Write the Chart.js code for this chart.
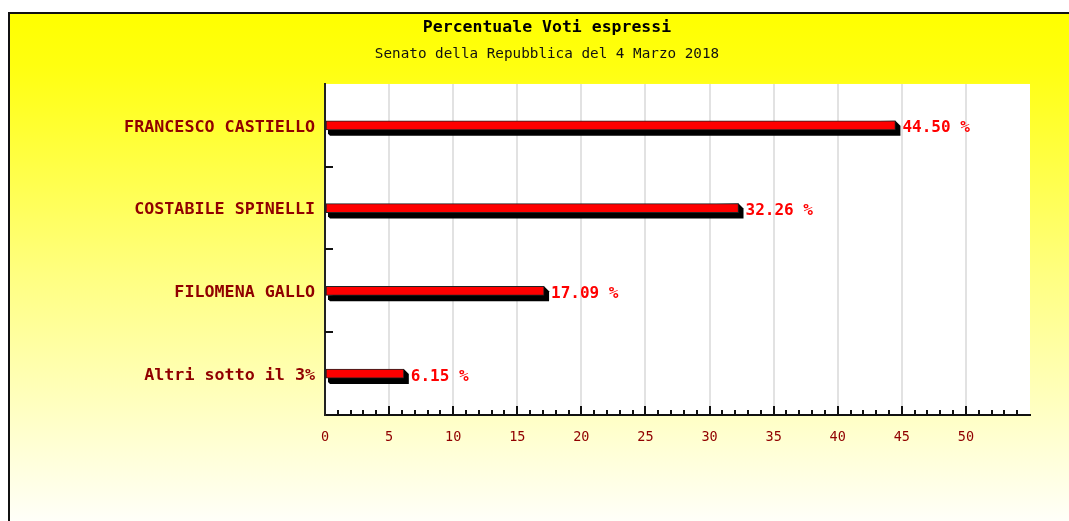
<!DOCTYPE html>
<html>
<head>
<meta charset="utf-8">
<script src="https://cdn.jsdelivr.net/npm/chart.js@4"></script>
<style>
  html, body { margin: 0; padding: 0; background: #fff; overflow: hidden; }
  #box {
    position: absolute; left: 8px; top: 12px; width: 1090px; height: 520px;
    border-top: 2px solid #111; border-left: 2px solid #111;
    background: linear-gradient(to bottom, #ffff00 0%, #ffff10 10%, #ffff80 50%, #ffffff 100%);
  }
  #chart { position: absolute; left: 0; top: 0; }
</style>
</head>
<body>
<div id="box"><canvas id="chart" width="1074" height="507"></canvas></div>
<script>
const candidates = ['FRANCESCO CASTIELLO', 'COSTABILE SPINELLI', 'FILOMENA GALLO', 'Altri sotto il 3%'];
const percentages = [44.50, 32.26, 17.09, 6.15];
const xMax = 55;
const labelStep = 5;

const MONO = '"DejaVu Sans Mono", "Liberation Mono", monospace';
const DARKRED = '#900000';

// white plot background
const plotBg = {
  id: 'plotBg',
  beforeDraw(chart) {
    const { ctx, chartArea: a } = chart;
    ctx.save();
    ctx.fillStyle = '#fff';
    ctx.fillRect(a.left, a.top, a.right - a.left, a.bottom - a.top);
    ctx.restore();
  }
};

// black 3d shadow under the bars, from the bar elements
const barShadow = {
  id: 'barShadow',
  beforeDatasetsDraw(chart) {
    const ctx = chart.ctx;
    ctx.save();
    ctx.fillStyle = '#000';
    chart.getDatasetMeta(0).data.forEach(bar => {
      const h = bar.height;
      ctx.beginPath();
      ctx.moveTo(bar.base + 2, bar.y + h / 2);
      ctx.lineTo(bar.x, bar.y - h / 2);
      ctx.lineTo(bar.x + 5, bar.y - h / 2 + 5);
      ctx.lineTo(bar.x + 5, bar.y + h / 2 + 6);
      ctx.lineTo(bar.base + 4, bar.y + h / 2 + 6);
      ctx.lineTo(bar.base + 2, bar.y + h / 2 + 4);
      ctx.closePath();
      ctx.fill();
    });
    ctx.restore();
  }
};

// ticks drawn inside the plot + value labels
const insideTicks = {
  id: 'insideTicks',
  afterDraw(chart) {
    const { ctx, chartArea: a } = chart;
    const x = chart.scales.x, y = chart.scales.y;
    ctx.save();
    ctx.strokeStyle = '#111';
    ctx.lineWidth = 2;
    x.ticks.forEach(t => {
      if (t.value <= 0 || t.value >= xMax) return;
      const px = Math.round(x.getPixelForValue(t.value));
      const len = t.value % labelStep === 0 ? 9 : 5;
      ctx.beginPath();
      ctx.moveTo(px, a.bottom);
      ctx.lineTo(px, a.bottom - len);
      ctx.stroke();
    });
    for (let i = 0; i < candidates.length - 1; i++) {
      const py = Math.round((y.getPixelForValue(i) + y.getPixelForValue(i + 1)) / 2);
      ctx.beginPath();
      ctx.moveTo(a.left, py);
      ctx.lineTo(a.left + 8, py);
      ctx.stroke();
    }
    ctx.fillStyle = '#ff0000';
    ctx.font = 'bold 16px ' + MONO;
    ctx.textBaseline = 'middle';
    chart.getDatasetMeta(0).data.forEach((bar, i) => {
      ctx.fillText(percentages[i].toFixed(2) + ' %', bar.x + 7, bar.y + 3);
    });
    ctx.restore();
  }
};

new Chart(document.getElementById('chart'), {
  type: 'bar',
  data: {
    labels: candidates,
    datasets: [{
      data: percentages,
      backgroundColor: '#ff0000',
      borderColor: '#222',
      borderWidth: 1,
      borderSkipped: false,
      barThickness: 9
    }]
  },
  options: {
    indexAxis: 'y',
    responsive: false,
    animation: false,
    layout: { padding: { left: 54, right: 54, top: 0, bottom: 0 } },
    plugins: {
      legend: { display: false },
      tooltip: { enabled: false },
      title: {
        display: true,
        text: 'Percentuale Voti espressi',
        color: '#000',
        font: { family: MONO, size: 16.5, weight: 'bold' },
        padding: { top: 4, bottom: 4 }
      },
      subtitle: {
        display: true,
        text: 'Senato della Repubblica del 4 Marzo 2018',
        color: '#111',
        font: { family: MONO, size: 14.3 },
        padding: { top: 4, bottom: 21 }
      }
    },
    scales: {
      x: {
        min: 0,
        max: xMax,
        afterFit: s => { s.height = 106; },
        ticks: {
          stepSize: 1,
          autoSkip: false,
          maxRotation: 0,
          padding: 14,
          color: DARKRED,
          font: { family: MONO, size: 13.5 },
          callback: v => (v % labelStep === 0 && v < xMax) ? String(v) : ''
        },
        grid: {
          drawTicks: false,
          lineWidth: 2,
          color: c => (c.tick && c.tick.value % labelStep === 0 && c.tick.value > 0 && c.tick.value < xMax) ? '#e2e2e2' : 'rgba(0,0,0,0)'
        },
        border: { display: true, color: '#111', width: 2 }
      },
      y: {
        afterFit: s => { s.width = 261; },
        ticks: {
          padding: 2,
          labelOffset: 2,
          color: DARKRED,
          font: { family: MONO, size: 16.7, weight: 'bold' }
        },
        grid: { display: false },
        border: { display: true, color: '#222', width: 2 }
      }
    }
  },
  plugins: [plotBg, barShadow, insideTicks]
});
</script>
</body>
</html>
